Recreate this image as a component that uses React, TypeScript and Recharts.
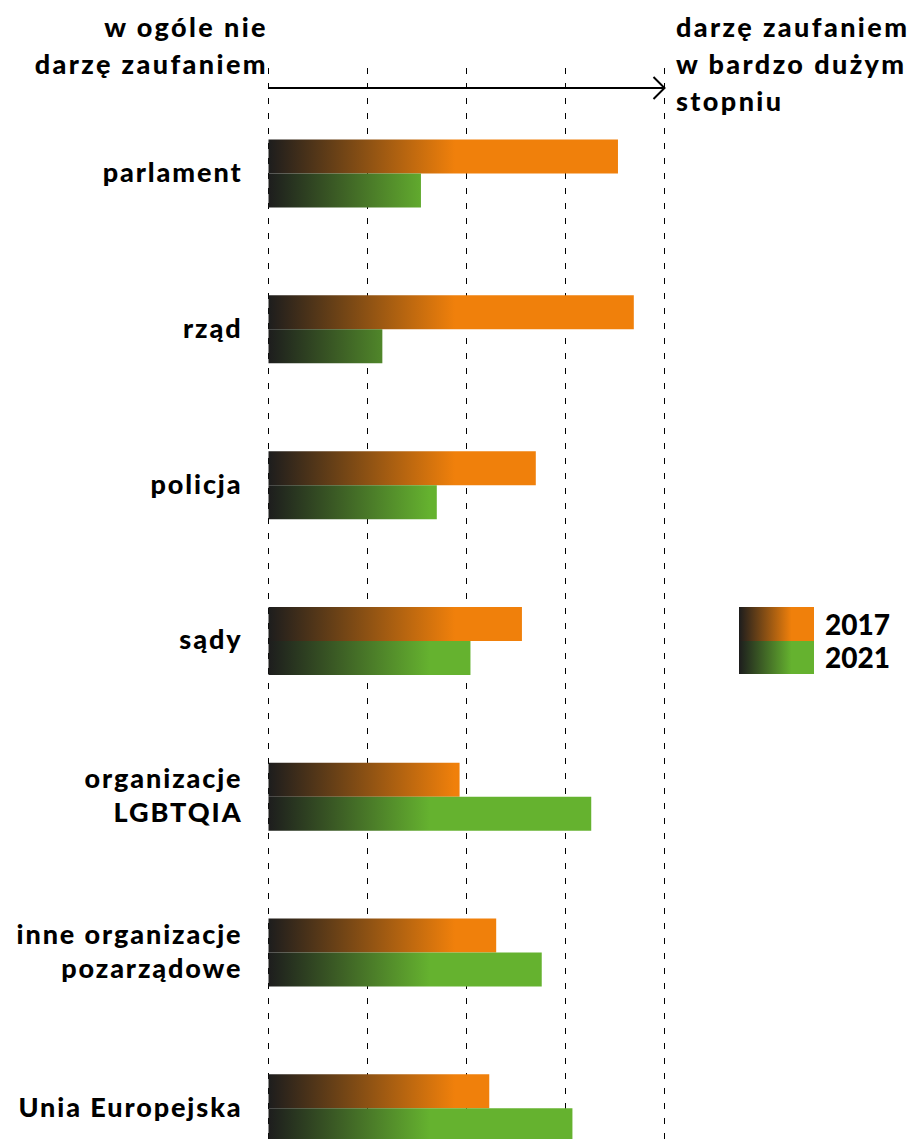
import { BarChart, Bar, XAxis, YAxis, CartesianGrid } from 'recharts'

const categories = ['parlament', 'rząd', 'policja', 'sądy', 'organizacje\nLGBTQIA', 'inne organizacje\npozarządowe', 'Unia Europejska']
const values2017 = [4.53, 4.69, 3.7, 3.56, 2.93, 3.3, 3.23]
const values2021 = [2.54, 2.15, 2.7, 3.04, 4.26, 3.76, 4.07]
const scaleTicks = [1, 2, 3, 4, 5]
const years = ['2017', '2021']

const data = categories.map((name, i) => ({ name, y2017: values2017[i], y2021: values2021[i] }))

const FONT = 'Lato, "Noto Sans", sans-serif'
const ORANGE = '#f0800b'
const GREEN = '#65b22f'
const DARK = '#1d1d1d'
// half-pixel edges keep the 1px dashed grid crisp
const AXIS_LEFT = 268.5
const AXIS_RIGHT = 664.5

const CategoryTick = (props: any) => {
    const { x, y, payload } = props
    const lines = String(payload.value).split('\n')
    const lh = 34
    const start = y - 2 - ((lines.length - 1) * lh) / 2
    return (
        <text x={x} y={start} textAnchor="end" fontFamily={FONT} fontWeight={900} fontSize={27} letterSpacing={1.9} fill="#000">
            {lines.map((l, i) => (
                <tspan key={i} x={x} y={start + i * lh} dominantBaseline="central">{l}</tspan>
            ))}
        </text>
    )
}

const LegendBox = () => (
    <div style={{ position: 'absolute', left: 739, top: 607, display: 'flex', flexDirection: 'column' }}>
        {years.map((yr, i) => (
            <div key={yr} style={{ display: 'flex', alignItems: 'center', height: 33.5 }}>
                <div style={{
                    width: 75, height: 33.5,
                    background: `linear-gradient(to right, ${DARK} 0%, ${i === 0 ? ORANGE : GREEN} 70%)`
                }} />
                <span style={{ marginLeft: 11, fontFamily: FONT, fontWeight: 900, fontSize: 28, color: '#000', lineHeight: '34px' }}>{yr}</span>
            </div>
        ))}
    </div>
)

const textStyle: any = { position: 'absolute', fontFamily: FONT, fontWeight: 900, fontSize: 27, letterSpacing: 2.4, lineHeight: '37px', color: '#000', whiteSpace: 'nowrap' }

export default function App() {
    return (
        <div style={{ position: 'absolute', top: 0, left: 0, width: 914, height: 1139, overflow: 'hidden', background: '#fff' }}>
            <BarChart
                width={914}
                height={1200}
                data={data}
                layout="vertical"
                margin={{ top: 68, right: 914 - AXIS_RIGHT, bottom: 14, left: 0 }}
                barSize={34}
                barGap={0}
            >
                <defs>
                    <linearGradient id="gOrange" gradientUnits="userSpaceOnUse" x1={AXIS_LEFT} y1={0} x2={455} y2={0}>
                        <stop offset="0%" stopColor={DARK} />
                        <stop offset="100%" stopColor={ORANGE} />
                    </linearGradient>
                    <linearGradient id="gGreen" gradientUnits="userSpaceOnUse" x1={AXIS_LEFT} y1={0} x2={430} y2={0}>
                        <stop offset="0%" stopColor={DARK} />
                        <stop offset="100%" stopColor={GREEN} />
                    </linearGradient>
                </defs>
                <CartesianGrid horizontal={false} stroke="#000" strokeWidth={1} strokeDasharray="6 9" />
                <XAxis type="number" domain={[1, 5]} ticks={scaleTicks} hide />
                <YAxis
                    type="category"
                    dataKey="name"
                    width={AXIS_LEFT}
                    axisLine={false}
                    tickLine={false}
                    tickSize={0}
                    tickMargin={26}
                    padding={{ top: 27.6, bottom: 0 }}
                    tick={<CategoryTick />}
                    interval={0}
                />
                <Bar dataKey="y2017" name="2017" fill="url(#gOrange)" isAnimationActive={false} />
                <Bar dataKey="y2021" name="2021" fill="url(#gGreen)" isAnimationActive={false} />
            </BarChart>
            <LegendBox />
            <svg width={914} height={120} style={{ position: 'absolute', top: 0, left: 0 }}>
                <line x1={AXIS_LEFT} y1={88} x2={AXIS_RIGHT} y2={88} stroke="#000" strokeWidth={2} />
                <polyline points={`${AXIS_RIGHT - 11},77 ${AXIS_RIGHT},88 ${AXIS_RIGHT - 11},99`} fill="none" stroke="#000" strokeWidth={2} />
            </svg>
            <div style={{ ...textStyle, right: 914 - 268, top: 8, textAlign: 'right' }}>
                w ogóle nie<br />darzę zaufaniem
            </div>
            <div style={{ ...textStyle, left: 676, top: 8, textAlign: 'left' }}>
                darzę zaufaniem<br />w bardzo dużym<br />stopniu
            </div>
        </div>
    )
}
